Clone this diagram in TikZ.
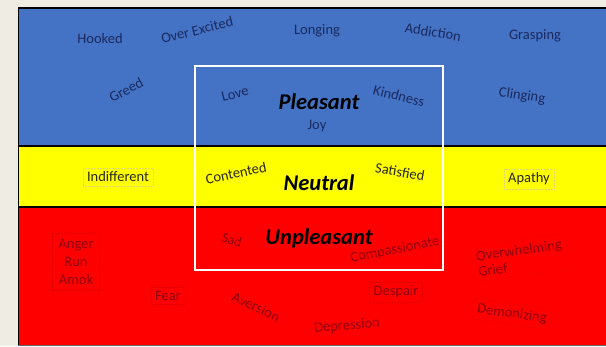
\documentclass[tikz,border=0pt]{standalone}
\usepackage{fontspec}
\setmainfont{Carlito}
\usepackage{xcolor}
\usetikzlibrary{positioning}

\definecolor{paper}{HTML}{EEECE3}
\definecolor{bandblue}{HTML}{4472C4}
\definecolor{bandyellow}{HTML}{FFFF00}
\definecolor{bandred}{HTML}{FF0000}
\definecolor{navytext}{HTML}{1B2A5E}
\definecolor{redtext}{HTML}{8C0010}

\begin{document}
\begin{tikzpicture}
  [x=1pt,y=-1pt,
    word/.style={font=\fontsize{14.5}{16}\selectfont,inner sep=1pt},
    blueword/.style={word,text=navytext},
    yellowword/.style={word,text=black!85},
    redword/.style={word,text=redtext},
    heading/.style={font=\fontsize{22.5}{24}\selectfont\bfseries\itshape,text=black},
    faintbox/.style={draw,densely dotted,line width=0.5pt},
    band/.style={draw=black,line width=2.5pt}]
  \useasboundingbox (0,0) rectangle (606,346);
  \fill[paper] (0,0) rectangle (606,346);
  % the three bands
  \fill[bandblue] (18,8) rectangle (606,146);
  \fill[bandyellow] (18,146) rectangle (606,207);
  \fill[bandred] (18,207) rectangle (606,346);
  \draw[band] (18,8) -- (606,8);
  \draw[band] (18,146) -- (606,146);
  \draw[band] (18,207) -- (606,207);
  \draw[line width=1pt] (18,8) -- (18,346);
  \draw[line width=1pt,black!60] (18,345.5) -- (606,345.5);
  % centre frame
  \draw[white,line width=2.5pt] (195,66) rectangle (443,270);

  % pleasant
  \node[blueword] (hooked) at (100,39) {Hooked};
  \node[blueword,rotate=14] (overexcited) at (197,30) {Over Excited};
  \node[blueword] (longing) at (317,31) {Longing};
  \node[blueword,rotate=-9] (addiction) at (433,32) {Addiction};
  \node[blueword] (grasping) at (535,36) {Grasping};
  \node[blueword,rotate=28] (greed) at (126,90) {Greed};
  \node[blueword,rotate=14] (love) at (235,94) {Love};
  \node[heading] (pleasant) at (319,102) {Pleasant};
  \node[blueword] (joy) at (317,126) {Joy};
  \node[blueword,rotate=-14] (kindness) at (399,96) {Kindness};
  \node[blueword,rotate=-8] (clinging) at (522,96) {Clinging};

  % neutral
  \node[yellowword,faintbox,draw=yellow!75!black!60,inner sep=4pt] (indifferent) at (118,177) {Indifferent};
  \node[yellowword,rotate=12] (contented) at (236,173) {Contented};
  \node[heading] (neutral) at (319,183) {Neutral};
  \node[yellowword,rotate=-10] (satisfied) at (400,172) {Satisfied};
  \node[yellowword,faintbox,draw=yellow!75!black!60,inner sep=4pt] (apathy) at (529,179) {Apathy};

  % unpleasant
  \node[redword,faintbox,draw=red!88!black,align=center,font=\fontsize{14.5}{18}\selectfont,inner sep=6pt] (amok) at (76,262) {Anger\\Run\\Amok};
  \node[redword,rotate=-15,font=\fontsize{13.5}{15}\selectfont] (sad) at (232,240) {Sad};
  \node[heading] (unpleasant) at (319,238) {Unpleasant};
  \node[redword,rotate=11] (compassionate) at (395,250) {Compassionate};
  \node[redword,faintbox,draw=red!88!black,rotate=8,align=left,inner sep=5pt] (grief) at (520,258) {Overwhelming\\Grief};
  \node[redword,faintbox,draw=red!88!black,inner sep=4pt] (fear) at (168,296) {Fear};
  \node[redword,rotate=-25] (aversion) at (256,307) {Aversion};
  \node[redword,faintbox,draw=red!88!black,inner sep=4pt] (despair) at (396,292) {Despair};
  \node[redword,rotate=5] (depression) at (347,326) {Depression};
  \node[redword,faintbox,draw=red!88!black,rotate=-8,inner sep=4pt] (demonizing) at (512,314) {Demonizing};
\end{tikzpicture}
\end{document}
